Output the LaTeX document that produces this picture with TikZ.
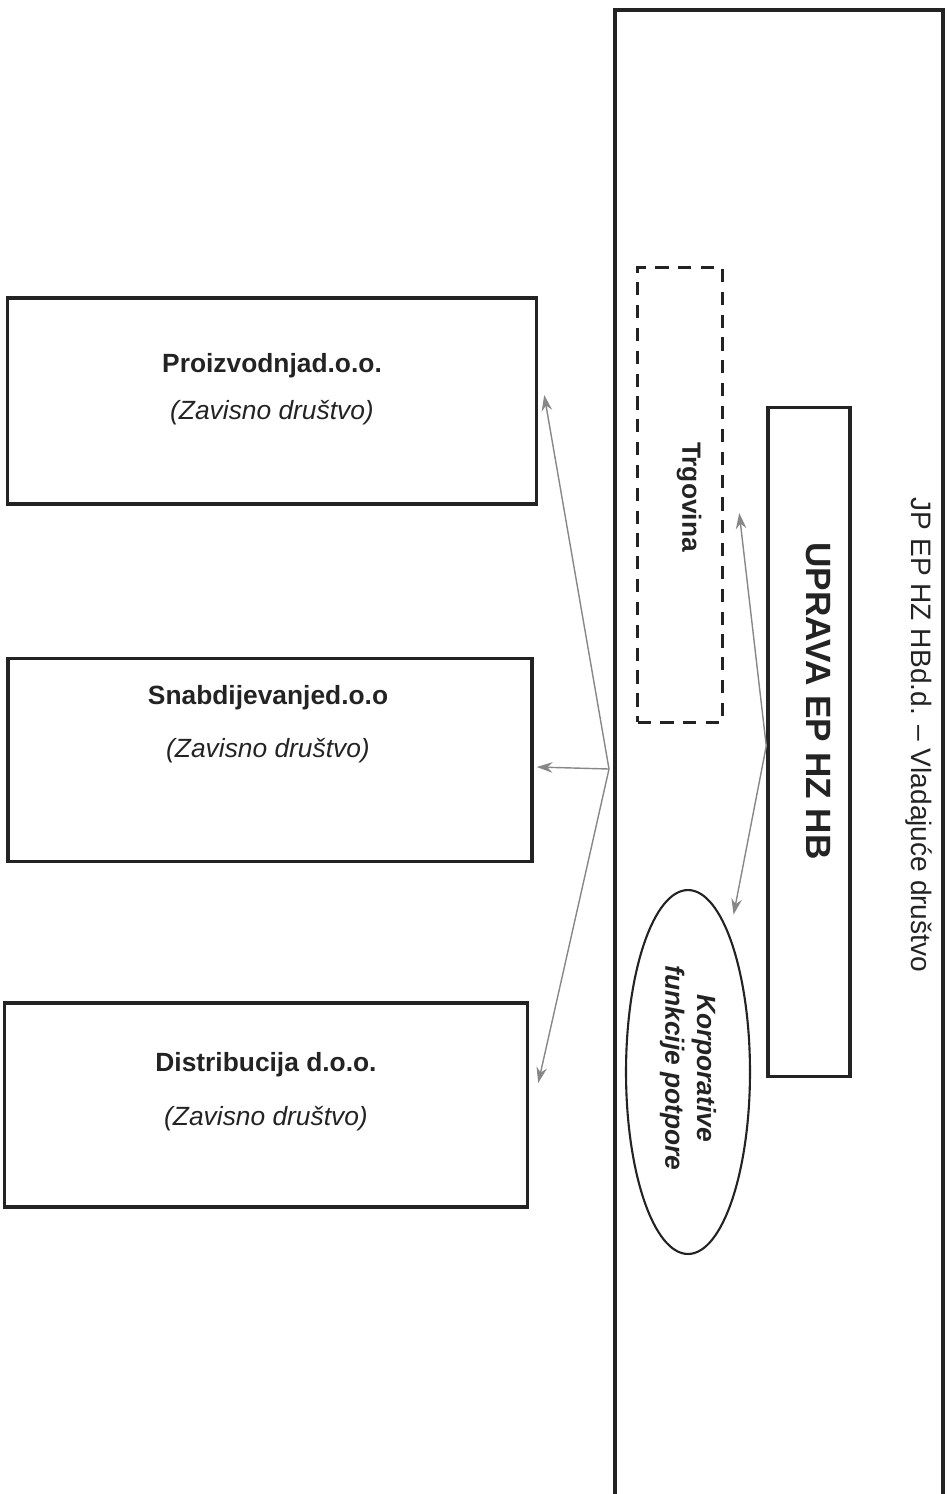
\documentclass[tikz,border=0pt]{standalone}
\usepackage{fontspec}
\setmainfont{Liberation Sans}
\usetikzlibrary{shapes.geometric,arrows.meta}
\definecolor{ink}{RGB}{35,35,35}
\definecolor{wire}{RGB}{135,135,135}
\newcommand{\fsz}[2]{\fontsize{#1}{#2}\selectfont}
\begin{document}
\begin{tikzpicture}[x=0.02cm,y=-0.02cm,
    box/.style={draw=ink,line width=2pt,inner sep=0pt},
    title/.style={font=\bfseries\fsz{15}{18},text=ink},
    sub/.style={font=\itshape\fsz{15}{18},text=ink},
    side/.style={rotate=-90,text=ink},
    link/.style={draw=wire,line width=0.8pt,-{Stealth[length=9pt,width=6pt]}}]
    \useasboundingbox (0,0) rectangle (947,1494);
    %% vladajuce drustvo (frame runs off the page)
    \draw[ink,line width=2pt] (615,1500) |- (943,10) -- (943,1500);
    \node[side,font=\fsz{16}{19}] (jpT) at (919,735) {JP EP HZ HBd.d. – Vladajuće društvo};
    \node[box,minimum width=1.64cm,minimum height=13.38cm] (upr) at (809,742) {};
    \node[side,font=\bfseries\fsz{20}{24}] (uprT) at (818,701) {UPRAVA EP HZ HB};
    \node[box,dashed,dash pattern=on 7.5pt off 5.5pt,minimum width=1.7cm,minimum height=9.1cm] (trg) at (680,495) {};
    \node[side,font=\bfseries\fsz{15}{18}] (trgT) at (689,497) {Trgovina};
    \node[draw=ink,line width=1.2pt,ellipse,minimum width=2.48cm,minimum height=7.28cm,inner sep=0pt] (kor) at (688,1072) {};
    \node[side,font=\bfseries\itshape\fsz{15}{18},align=center] (korT) at (688,1068) {Korporative\\funkcije potpore};
    %% zavisna drustva
    \node[box,minimum width=10.58cm,minimum height=4.12cm] (proiz) at (272,401) {};
    \node[title] (proizT) at (272,366) {Proizvodnjad.o.o.};
    \node[sub] (proizS) at (272,413) {(Zavisno društvo)};
    \node[box,minimum width=10.48cm,minimum height=4.06cm] (snab) at (270,760) {};
    \node[title] (snabT) at (268,698) {Snabdijevanjed.o.o};
    \node[sub] (snabS) at (268,751) {(Zavisno društvo)};
    \node[box,minimum width=10.46cm,minimum height=4.08cm] (distr) at (266,1105) {};
    \node[title] (distrT) at (266,1065) {Distribucija d.o.o.};
    \node[sub] (distrS) at (266,1119) {(Zavisno društvo)};
    %% veze
    \coordinate (hub) at (609,769);
    \coordinate (hubU) at ([yshift=-0.08cm]upr.west);
    \draw[link] (hub) -- ([shift={(6,-6)}]proiz.east);
    \draw[link] (hub) -- ([shift={(3,7)}]snab.east);
    \draw[link] (hub) -- ([shift={(9,-22)}]distr.east);
    \draw[link] (hubU) -- ([shift={(15,18)}]trg.east);
    \draw[link] (hubU) -- ([shift={(1,-28)}]kor.north east);
\end{tikzpicture}
\end{document}
